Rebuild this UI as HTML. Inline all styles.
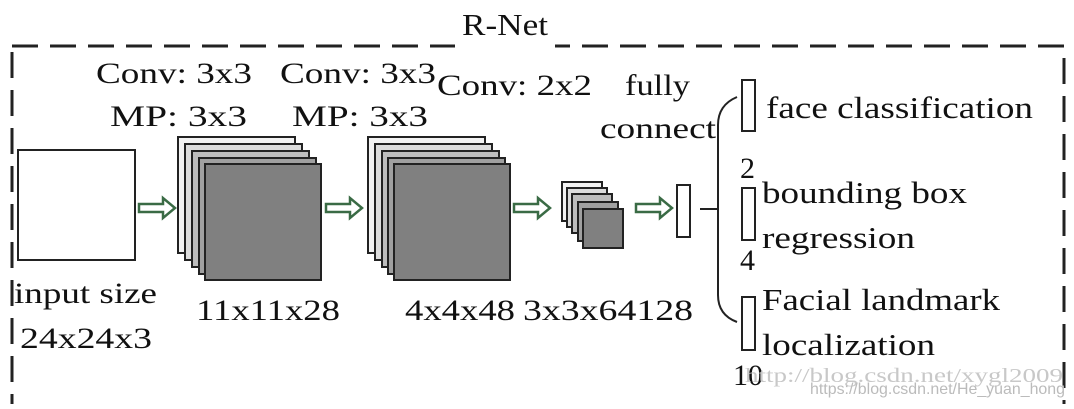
<!DOCTYPE html>
<html><head><meta charset="utf-8"><style>
html,body{margin:0;padding:0;background:#fff;}
svg text{font-family:"Liberation Serif",serif;fill:#111;}
</style></head><body>
<svg width="1074" height="404" viewBox="0 0 1074 404" xmlns="http://www.w3.org/2000/svg">
<rect x="12" y="46" width="1052" height="370" fill="none" stroke="#222" stroke-width="3" stroke-dasharray="26,12"/>
<rect x="455" y="30" width="100" height="24" fill="#fff"/>
<text x="462" y="35" font-size="31" textLength="86" lengthAdjust="spacingAndGlyphs">R-Net</text>

<text x="96" y="83" font-size="30" textLength="156" lengthAdjust="spacingAndGlyphs">Conv: 3x3</text>
<text x="110" y="126" font-size="30" textLength="137" lengthAdjust="spacingAndGlyphs">MP: 3x3</text>
<text x="280" y="83" font-size="30" textLength="156" lengthAdjust="spacingAndGlyphs">Conv: 3x3</text>
<text x="292" y="126" font-size="30" textLength="136" lengthAdjust="spacingAndGlyphs">MP: 3x3</text>
<text x="437" y="95" font-size="30" textLength="155" lengthAdjust="spacingAndGlyphs">Conv: 2x2</text>
<text x="625" y="95" font-size="30" textLength="65" lengthAdjust="spacingAndGlyphs">fully</text>
<text x="600" y="138" font-size="30" textLength="116" lengthAdjust="spacingAndGlyphs">connect</text>

<rect x="18" y="150" width="117" height="110" fill="#fff" stroke="#222" stroke-width="2"/>

<g stroke="#222" stroke-width="2">
<rect x="178" y="137" width="117" height="116" fill="#f2f2f2"/>
<rect x="185" y="144" width="117" height="116" fill="#dcdcdc"/>
<rect x="192" y="151" width="117" height="116" fill="#bdbdbd"/>
<rect x="199" y="158" width="117" height="116" fill="#a0a0a0"/>
<rect x="205" y="164" width="116" height="116" fill="#808080"/>

<rect x="368" y="137" width="117" height="116" fill="#f2f2f2"/>
<rect x="375" y="144" width="117" height="116" fill="#dcdcdc"/>
<rect x="382" y="151" width="117" height="116" fill="#bdbdbd"/>
<rect x="388" y="158" width="117" height="116" fill="#a0a0a0"/>
<rect x="394" y="164" width="116" height="116" fill="#808080"/>

<rect x="562" y="182" width="40" height="39" fill="#f2f2f2"/>
<rect x="567" y="188" width="40" height="39" fill="#dcdcdc"/>
<rect x="572" y="194" width="40" height="39" fill="#bdbdbd"/>
<rect x="578" y="202" width="40" height="39" fill="#a0a0a0"/>
<rect x="583" y="209" width="40" height="39" fill="#808080"/>
</g>

<g fill="#fff" stroke="#3a6b45" stroke-width="2.5">
<path d="M139,204 h24 v-6 l12,10 l-12,10 v-6 h-24 z"/>
<path d="M326,204 h24 v-6 l12,10 l-12,10 v-6 h-24 z"/>
<path d="M514,204 h24 v-6 l12,10 l-12,10 v-6 h-24 z"/>
<path d="M636,204 h24 v-6 l12,10 l-12,10 v-6 h-24 z"/>
</g>

<g fill="#fff" stroke="#222" stroke-width="2">
<rect x="677" y="185" width="13" height="52"/>
<rect x="742" y="80" width="13" height="51"/>
<rect x="742" y="188" width="13" height="52"/>
<rect x="742" y="297" width="13" height="53"/>
</g>
<g fill="none" stroke="#222" stroke-width="2">
<line x1="700" y1="209" x2="718" y2="209"/>
<path d="M737,97 Q718,105 718,125 V295 Q718,315 737,322"/>
</g>

<text x="766" y="118" font-size="31" textLength="267" lengthAdjust="spacingAndGlyphs">face classification</text>
<text x="740" y="178" font-size="30">2</text>
<text x="762" y="203" font-size="31" textLength="205" lengthAdjust="spacingAndGlyphs">bounding box</text>
<text x="762" y="248" font-size="31" textLength="153" lengthAdjust="spacingAndGlyphs">regression</text>
<text x="740" y="270" font-size="30">4</text>
<text x="762" y="310" font-size="31" textLength="238" lengthAdjust="spacingAndGlyphs">Facial landmark</text>
<text x="762" y="355" font-size="31" textLength="173" lengthAdjust="spacingAndGlyphs">localization</text>
<text x="733" y="385" font-size="30">10</text>

<text x="14" y="303" font-size="30" textLength="143" lengthAdjust="spacingAndGlyphs">input size</text>
<text x="20" y="348" font-size="30" textLength="132" lengthAdjust="spacingAndGlyphs">24x24x3</text>
<text x="196" y="320" font-size="30" textLength="144" lengthAdjust="spacingAndGlyphs">11x11x28</text>
<text x="405" y="320" font-size="30" textLength="110" lengthAdjust="spacingAndGlyphs">4x4x48</text>
<text x="523" y="320" font-size="30" textLength="170" lengthAdjust="spacingAndGlyphs">3x3x64128</text>

<text x="745" y="382" font-size="20" textLength="318" lengthAdjust="spacingAndGlyphs" style="fill:#c8c8c8">http://blog.csdn.net/xygl2009</text>
<text x="810" y="394" font-size="16" textLength="255" lengthAdjust="spacingAndGlyphs" style="font-family:'Liberation Sans',sans-serif;fill:#bbb">https://blog.csdn.net/He_yuan_hong</text>
</svg>
</body></html>
